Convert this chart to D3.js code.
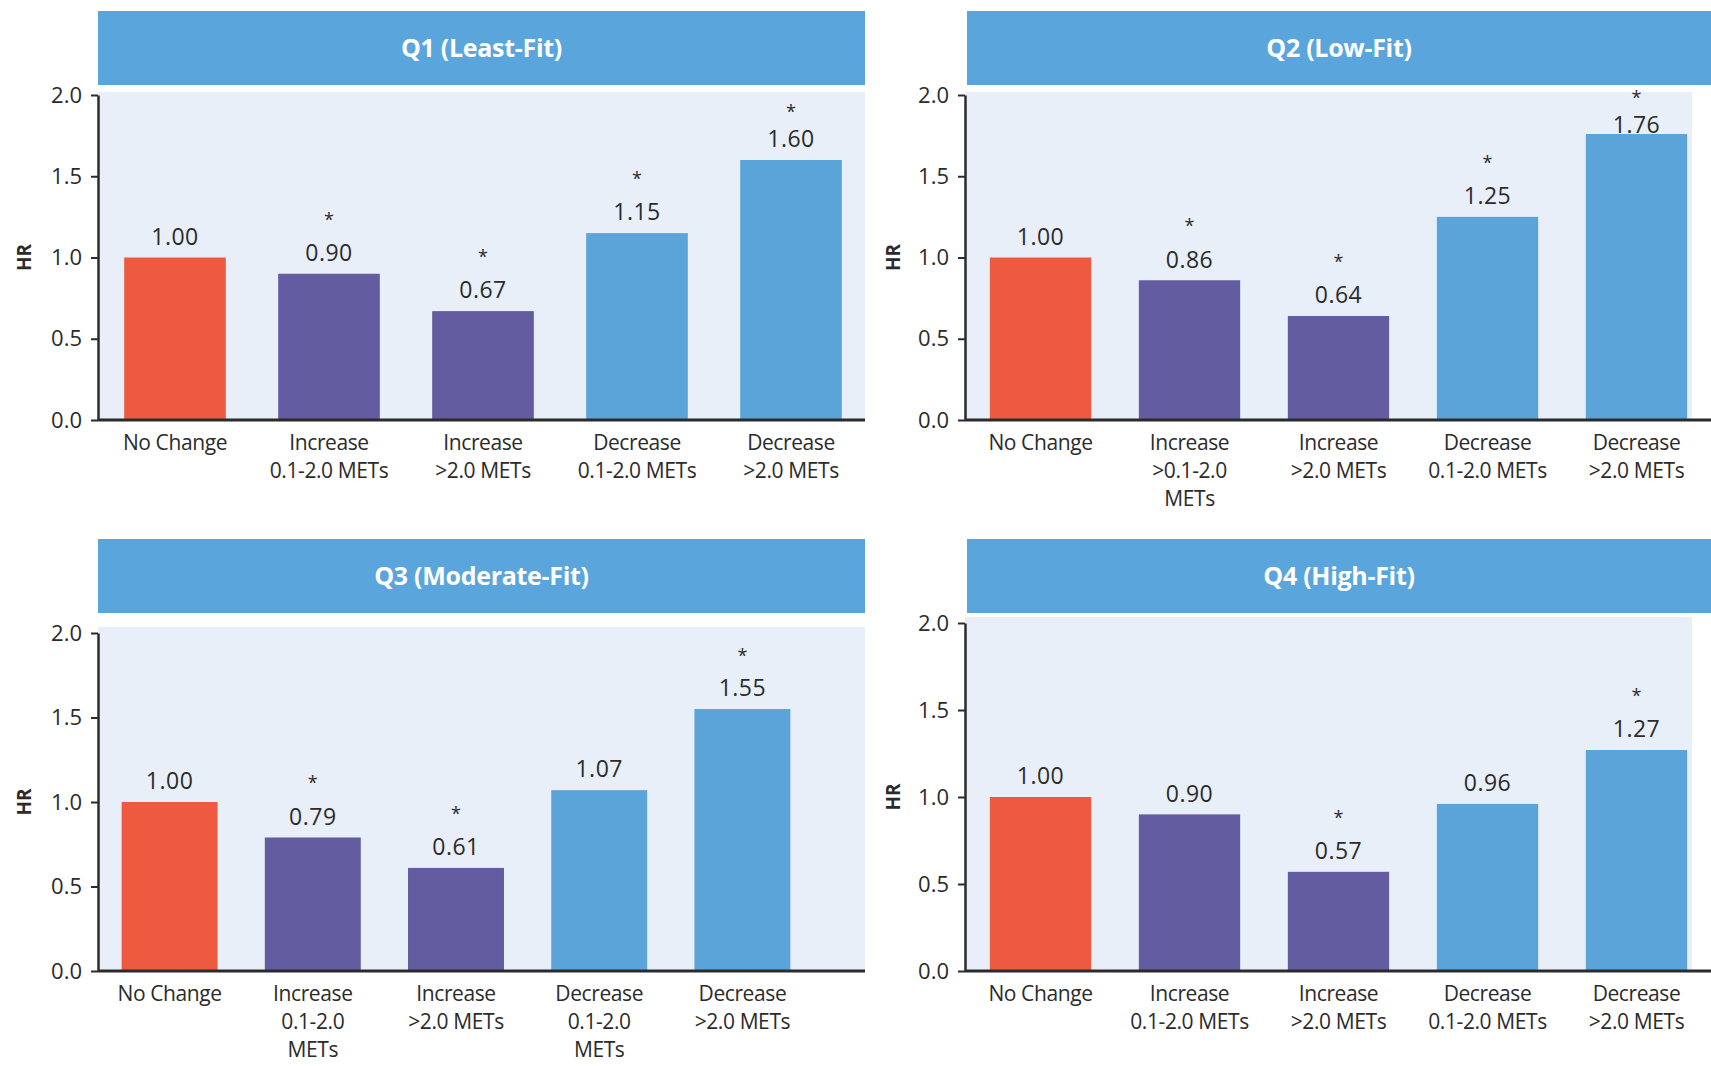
<!DOCTYPE html>
<html>
<head>
<meta charset="utf-8">
<script src="https://cdn.jsdelivr.net/npm/d3@7/dist/d3.min.js"></script>
<style>
  html, body { margin: 0; padding: 0; background: #ffffff; }
  svg { display: block; }
  text { font-family: "Open Sans", "Noto Sans", sans-serif; }
</style>
</head>
<body>
<svg id="chart" width="1711" height="1066"></svg>
<script>
// ---------------- DATA ----------------
const panelTitles = ["Q1 (Least-Fit)", "Q2 (Low-Fit)", "Q3 (Moderate-Fit)", "Q4 (High-Fit)"];
const categories = ["No Change", "Increase 0.1-2.0 METs", "Increase >2.0 METs", "Decrease 0.1-2.0 METs", "Decrease >2.0 METs"];
const categoryGroup = ["reference", "increase", "increase", "decrease", "decrease"];

const q1Values = [1.00, 0.90, 0.67, 1.15, 1.60];
const q2Values = [1.00, 0.86, 0.64, 1.25, 1.76];
const q3Values = [1.00, 0.79, 0.61, 1.07, 1.55];
const q4Values = [1.00, 0.90, 0.57, 0.96, 1.27];

const q1Significant = [false, true, true, true, true];
const q2Significant = [false, true, true, true, true];
const q3Significant = [false, true, true, false, true];
const q4Significant = [false, false, true, false, true];

const q1Labels = [["No Change"], ["Increase", "0.1-2.0 METs"], ["Increase", ">2.0 METs"], ["Decrease", "0.1-2.0 METs"], ["Decrease", ">2.0 METs"]];
const q2Labels = [["No Change"], ["Increase", ">0.1-2.0", "METs"], ["Increase", ">2.0 METs"], ["Decrease", "0.1-2.0 METs"], ["Decrease", ">2.0 METs"]];
const q3Labels = [["No Change"], ["Increase", "0.1-2.0", "METs"], ["Increase", ">2.0 METs"], ["Decrease", "0.1-2.0", "METs"], ["Decrease", ">2.0 METs"]];
const q4Labels = [["No Change"], ["Increase", "0.1-2.0 METs"], ["Increase", ">2.0 METs"], ["Decrease", "0.1-2.0 METs"], ["Decrease", ">2.0 METs"]];

const yTicks = [0.0, 0.5, 1.0, 1.5, 2.0];
const yDomain = [0, 2.0];
const yAxisTitle = "HR";

// ---------------- STYLE / LAYOUT ----------------
const colors = { reference: "#ee5a40", increase: "#645ca0", decrease: "#5aa4da" };
const headerColor = "#5aa5dc";
const plotBg = "#e9eff8";
const inkColor = "#2b2b2b";

const layout = [
  { header: [98, 865, 11, 85], bg: [98, 865, 92], yRange: [420, 95], xRange: [98, 868], axisRight: 865, hrX: 24, pad: 0.34 },
  { header: [967, 1711, 11, 85], bg: [965, 1692, 92], yRange: [420, 95], xRange: [966, 1711], axisRight: 1711, hrX: 893, pad: 0.32 },
  { header: [98, 865, 539, 613], bg: [98, 865, 627], yRange: [971, 633], xRange: [98, 814], axisRight: 865, hrX: 24, pad: 0.33 },
  { header: [967, 1711, 539, 613], bg: [965, 1692, 617], yRange: [971, 623], xRange: [966, 1711], axisRight: 1711, hrX: 893, pad: 0.32 }
];

const panelValues = [q1Values, q2Values, q3Values, q4Values];
const panelSig = [q1Significant, q2Significant, q3Significant, q4Significant];
const panelLabels = [q1Labels, q2Labels, q3Labels, q4Labels];

const svg = d3.select("#chart");

panelTitles.forEach((title, pi) => {
  const L = layout[pi];
  const values = panelValues[pi];
  const sig = panelSig[pi];
  const labels = panelLabels[pi];
  const g = svg.append("g");

  const x = d3.scaleBand().domain(categories).range(L.xRange)
    .paddingInner(L.pad).paddingOuter(L.pad / 2);
  const y = d3.scaleLinear().domain(yDomain).range(L.yRange);

  // header
  g.append("rect")
    .attr("x", L.header[0]).attr("y", L.header[2])
    .attr("width", L.header[1] - L.header[0]).attr("height", L.header[3] - L.header[2])
    .attr("fill", headerColor);
  g.append("text")
    .attr("x", (L.header[0] + L.header[1]) / 2)
    .attr("y", (L.header[2] + L.header[3]) / 2)
    .attr("dy", "0.35em")
    .attr("text-anchor", "middle")
    .attr("fill", "#ffffff")
    .attr("font-size", 25)
    .attr("font-weight", 700)
    .attr("letter-spacing", -0.3)
    .text(title);

  // plot background
  g.append("rect")
    .attr("x", L.bg[0]).attr("y", L.bg[2])
    .attr("width", L.bg[1] - L.bg[0]).attr("height", y(0) - L.bg[2])
    .attr("fill", plotBg);

  // bars
  g.selectAll("rect.bar").data(categories).join("rect")
    .attr("class", "bar")
    .attr("x", d => x(d))
    .attr("width", x.bandwidth())
    .attr("y", (d, i) => y(values[i]))
    .attr("height", (d, i) => y(0) - y(values[i]))
    .attr("fill", (d, i) => colors[categoryGroup[i]]);

  // value labels and significance stars
  const plotTop = y(yDomain[1]);
  categories.forEach((c, i) => {
    const cx = x(c) + x.bandwidth() / 2;
    const barTop = y(values[i]);
    const available = barTop - plotTop;
    const starOffset = Math.min(58, available * 0.75);
    const labelOffset = Math.min(21, Math.max(9, starOffset - 22));
    const labelY = barTop - labelOffset;
    g.append("text")
      .attr("x", cx).attr("y", labelY)
      .attr("dy", "0.36em")
      .attr("text-anchor", "middle")
      .attr("fill", inkColor)
      .attr("font-size", 23)
      .attr("letter-spacing", 0.5)
      .text(d3.format(".2f")(values[i]));
    if (sig[i]) {
      const starBaseline = Math.min(barTop - starOffset + 10, labelY - 21);
      g.append("text")
        .attr("x", cx).attr("y", starBaseline)
        .attr("text-anchor", "middle")
        .attr("fill", inkColor)
        .attr("font-size", 18)
        .text("*");
    }
  });

  // y axis
  const yAxis = g.append("g")
    .attr("transform", `translate(${L.bg[0]},0)`)
    .call(d3.axisLeft(y).tickValues(yTicks).tickFormat(d3.format(".1f")).tickSize(7).tickSizeOuter(0).tickPadding(9));
  yAxis.select(".domain").attr("stroke", inkColor).attr("stroke-width", 2.5);
  yAxis.selectAll(".tick line").attr("stroke", inkColor).attr("stroke-width", 2);
  yAxis.selectAll(".tick text").attr("fill", inkColor).attr("font-size", 22)
    .attr("font-family", "\"Open Sans\", sans-serif");

  // y axis title
  g.append("text")
    .attr("transform", `translate(${L.hrX},${(L.yRange[0] + L.yRange[1]) / 2}) rotate(-90)`)
    .attr("dy", "0.35em")
    .attr("text-anchor", "middle")
    .attr("fill", inkColor)
    .attr("font-size", 19)
    .attr("font-weight", 700)
    .text(yAxisTitle);

  // x axis (labels) + baseline
  const xAxis = g.append("g")
    .attr("transform", `translate(0,${y(0)})`)
    .call(d3.axisBottom(x).tickSize(0).tickFormat(() => ""));
  xAxis.select(".domain").remove();
  xAxis.selectAll(".tick text").remove();
  xAxis.selectAll(".tick").each(function(d, i) {
    const t = d3.select(this).append("text")
      .attr("text-anchor", "middle")
      .attr("fill", inkColor)
      .attr("font-size", 21)
      .attr("letter-spacing", -0.4)
      .attr("y", 30);
    labels[i].forEach((line, li) => {
      t.append("tspan").attr("x", 0).attr("dy", li === 0 ? 0 : 28).text(line);
    });
  });
  g.append("line")
    .attr("x1", L.bg[0]).attr("x2", L.axisRight)
    .attr("y1", y(0)).attr("y2", y(0))
    .attr("stroke", inkColor).attr("stroke-width", 3);
});
</script>
</body>
</html>
